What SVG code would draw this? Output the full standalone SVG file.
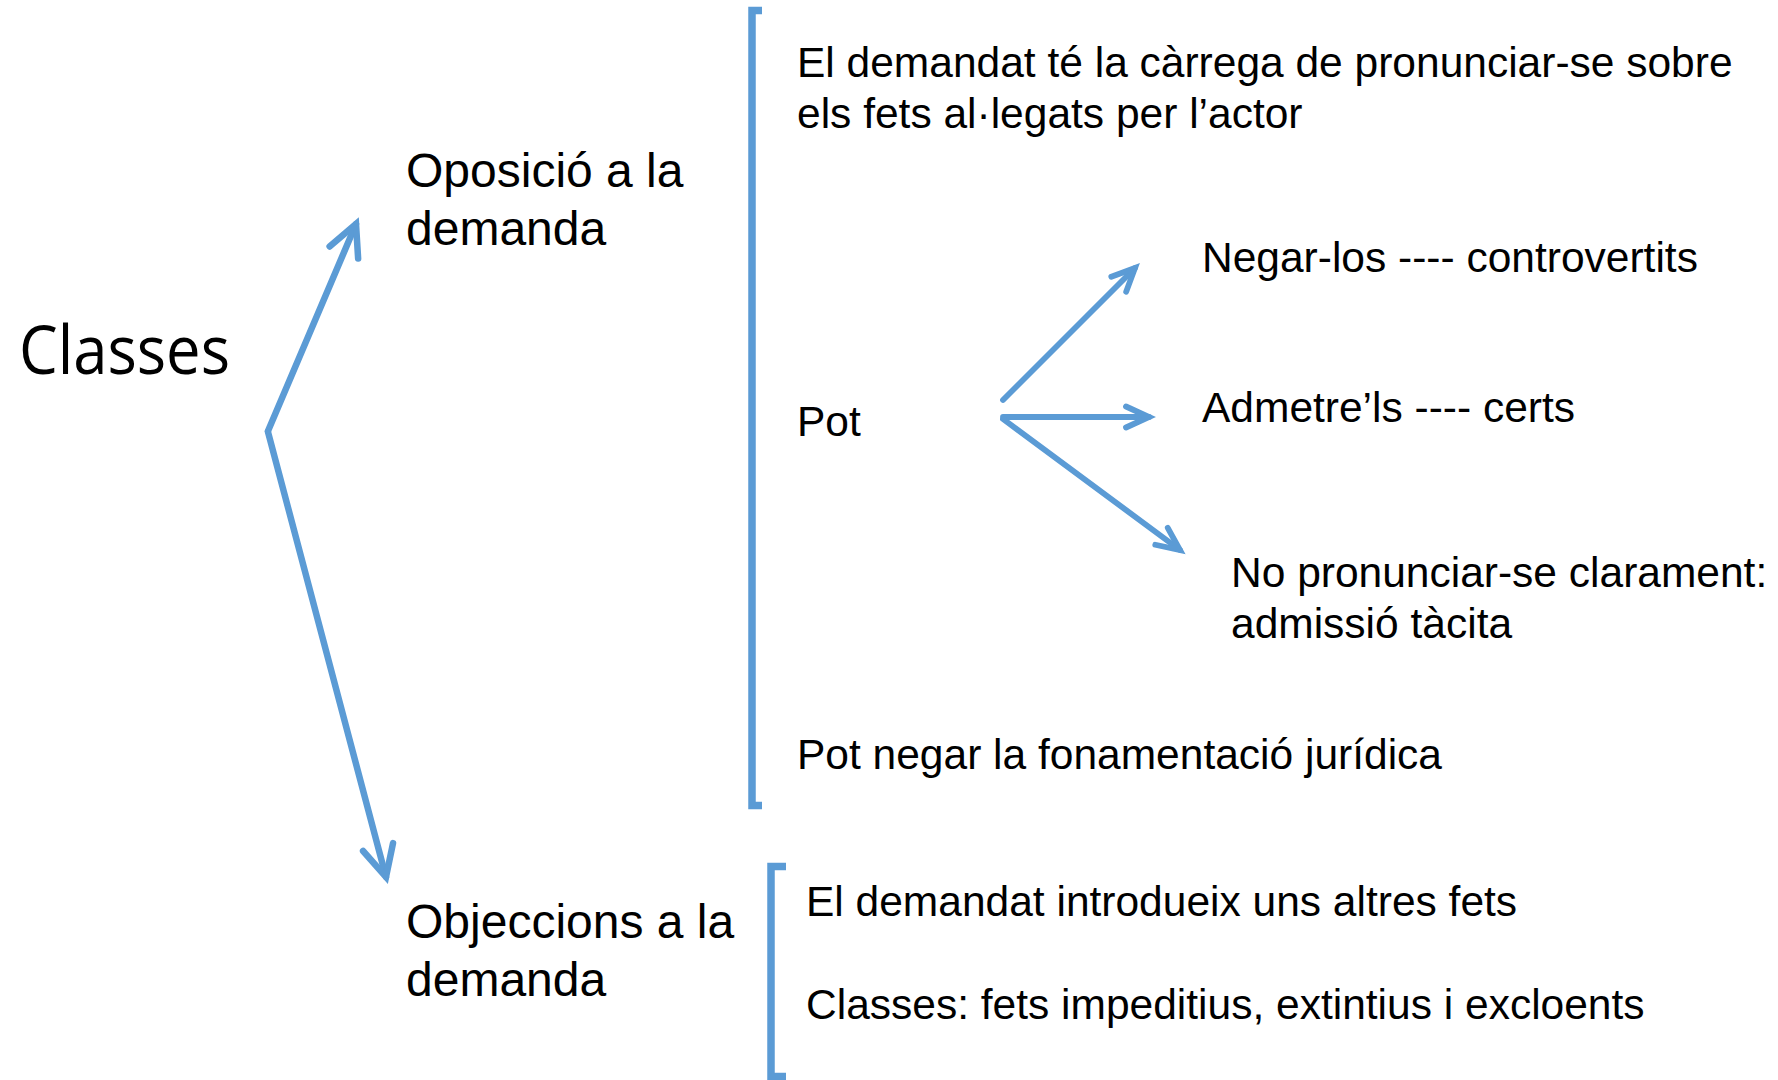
<svg xmlns="http://www.w3.org/2000/svg" width="1778" height="1080" viewBox="0 0 1778 1080">
<style>
  .t { font-family: "Liberation Sans", Arial, sans-serif; fill: #000; }
  .lbl { font-size: 48px; }
  .txt { font-size: 42.5px; }
  .title { font-family: "Open Sans", "Liberation Sans", sans-serif; font-size: 68px; fill: #000; }
  .ln { stroke: #5B9BD5; fill: none; stroke-linecap: round; }
  .big { stroke-width: 6.5; marker-end: url(#headBig); }
  .small { stroke-width: 5.8; marker-end: url(#headSmall); }
  .br { stroke: #5B9BD5; stroke-width: 7.5; fill: none; stroke-linejoin: miter; }
</style>
<defs>
  <marker id="headBig" markerUnits="userSpaceOnUse" orient="auto" refX="0" refY="0" markerWidth="80" markerHeight="80" viewBox="-40 -40 80 80" overflow="visible">
    <path d="M-31,-15.5 L0,0 L-31,15.5" fill="none" stroke="#5B9BD5" stroke-width="6.5" stroke-linecap="round" stroke-linejoin="miter"/>
  </marker>
  <marker id="headSmall" markerUnits="userSpaceOnUse" orient="auto" refX="0" refY="0" markerWidth="80" markerHeight="80" viewBox="-40 -40 80 80" overflow="visible">
    <path d="M-23,-10.5 L0,0 L-23,10.5" fill="none" stroke="#5B9BD5" stroke-width="5.8" stroke-linecap="round" stroke-linejoin="miter"/>
  </marker>
</defs>
<rect width="1778" height="1080" fill="#fff"/>

<g id="connectors">
  <line class="ln big" x1="268" y1="431" x2="356" y2="224"/>
  <line class="ln big" x1="268" y1="432" x2="386" y2="877"/>
  <line class="ln small" x1="1003" y1="400" x2="1135" y2="268"/>
  <line class="ln small" x1="1003" y1="417" x2="1149" y2="417"/>
  <line class="ln small" x1="1003" y1="419" x2="1180" y2="550"/>
</g>

<g id="node-classes">
  <text class="title" x="19" y="374" textLength="211" lengthAdjust="spacingAndGlyphs">Classes</text>
</g>

<g id="node-oposicio">
  <text class="t lbl" x="406" y="187">Oposició a la</text>
  <text class="t lbl" x="406" y="245">demanda</text>
</g>

<g id="node-objeccions">
  <text class="t lbl" x="406" y="938">Objeccions a la</text>
  <text class="t lbl" x="406" y="996">demanda</text>
</g>

<g id="bracket-1">
  <path class="br" d="M762,10.5 L752,10.5 L752,805.5 L762,805.5"/>
</g>

<g id="bracket-2">
  <path class="br" d="M786,866.5 L771,866.5 L771,1076.5 L786,1076.5"/>
</g>

<g id="node-carrega">
  <text class="t txt" x="797" y="77">El demandat té la càrrega de pronunciar-se sobre</text>
  <text class="t txt" x="797" y="128">els fets al·legats per l’actor</text>
</g>

<g id="node-pot">
  <text class="t txt" x="797" y="436">Pot</text>
</g>

<g id="node-negar">
  <text class="t txt" x="1202" y="272">Negar-los ---- controvertits</text>
</g>

<g id="node-admetre">
  <text class="t txt" x="1202" y="422">Admetre’ls ---- certs</text>
</g>

<g id="node-nopronunciar">
  <text class="t txt" x="1231" y="587">No pronunciar-se clarament:</text>
  <text class="t txt" x="1231" y="638">admissió tàcita</text>
</g>

<g id="node-potnegar">
  <text class="t txt" x="797" y="769">Pot negar la fonamentació jurídica</text>
</g>

<g id="node-introdueix">
  <text class="t txt" x="806" y="916">El demandat introdueix uns altres fets</text>
</g>

<g id="node-classes-fets">
  <text class="t txt" x="806" y="1019">Classes: fets impeditius, extintius i excloents</text>
</g>
</svg>
